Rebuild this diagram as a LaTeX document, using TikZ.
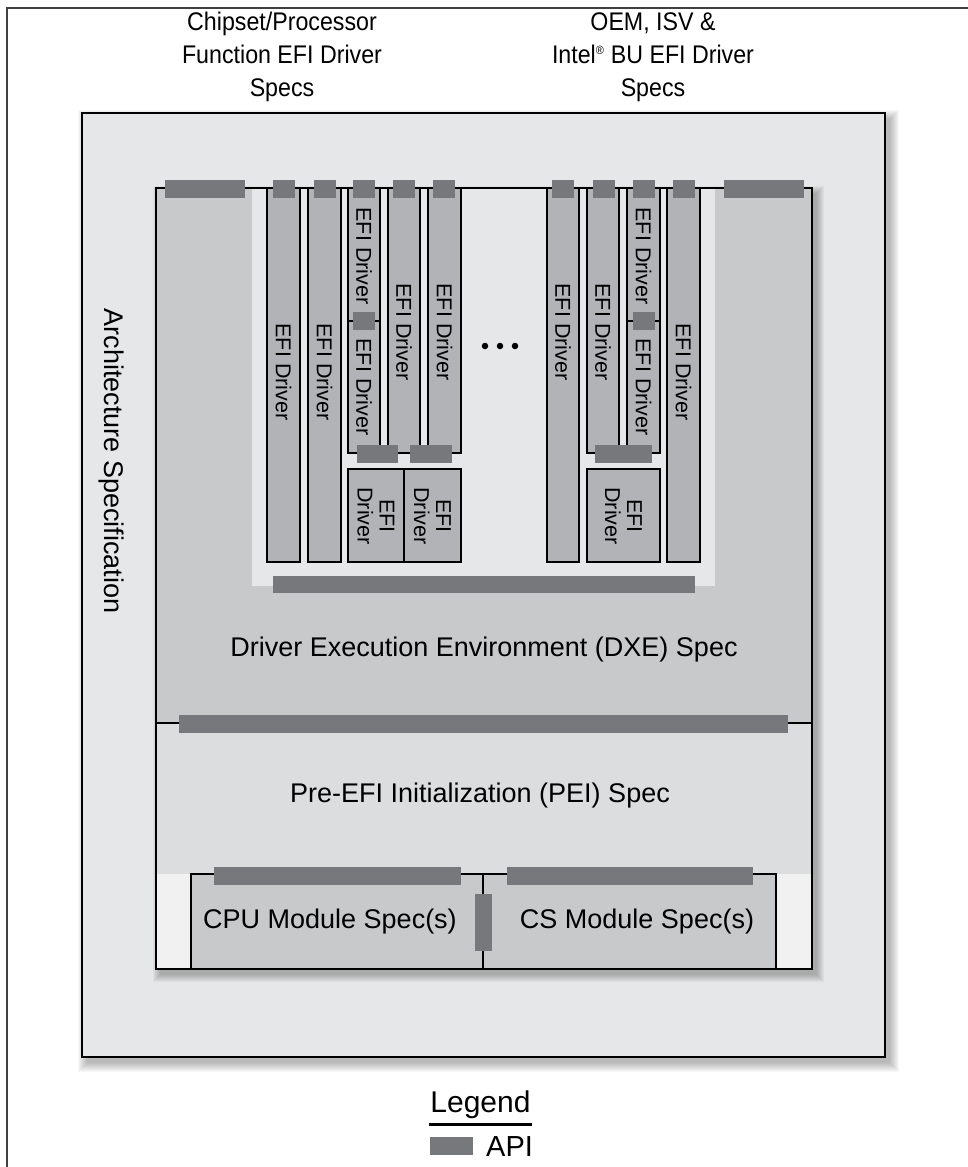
\documentclass[tikz,border=0pt]{standalone}
\usepackage{fontspec}
\setmainfont{Liberation Sans}
\newfontfamily\narrowsans[FakeStretch=0.91]{Liberation Sans}
\usetikzlibrary{fit}
\definecolor{archfill}{HTML}{E6E7E8}
\definecolor{dxefill}{HTML}{C8C9CB}
\definecolor{peifill}{HTML}{DCDDDF}
\definecolor{lowfill}{HTML}{F1F1F2}
\definecolor{drvfill}{HTML}{B1B3B6}
\definecolor{modfill}{HTML}{C8C9CB}
\definecolor{apifill}{HTML}{77787B}
\begin{document}
\begin{tikzpicture}[x=1pt,y=-1pt,
  box/.style={inner sep=0pt, outer sep=0pt},
  drv/.style={box, draw=black, line width=1.2pt, fill=drvfill},
  api/.style={box, fill=apifill, draw=none},
  mod/.style={box, draw=black, line width=1.5pt, fill=modfill},
  drvtxt/.style={font=\fontsize{21.5}{22}\selectfont, rotate=-90, align=center, inner sep=0pt},
  bigtxt/.style={font=\fontsize{27}{32}\selectfont, inner sep=0pt},
  toptxt/.style={font=\narrowsans\fontsize{25.5}{33}\selectfont, align=center, inner sep=0pt}
]
\useasboundingbox (0,0) rectangle (967,1167);
% outer frame
\draw[line width=2pt, black!75] (7,1168) -- (7,8) -- (968,8);

% top labels
\node[toptxt] (lblA) at (282,57) {Chipset/Processor\\Function EFI Driver\\Specs};
\node[toptxt] (lblB) at (653,57) {OEM, ISV \&\\Intel\textsuperscript{\fontsize{12}{12}\selectfont ®} BU EFI Driver\\Specs};

% architecture box with soft shadow
\foreach \k in {0,...,9}
  \fill[black, opacity=0.03] ({87-\k},{119-\k}) rectangle ({890+\k},{1063+\k});
\node[box, fill=archfill, draw=black, line width=2pt, fit={(82,113) (885,1057)}] (arch) {};
\node[bigtxt, rotate=-90] (archlbl) at (111,461) {Architecture Specification};

% DXE / PEI box with soft shadow
\foreach \k in {0,...,7}
  \fill[black, opacity=0.035] ({160-\k},{193-\k}) rectangle ({817+\k},{975+\k});
\node[box, fill=lowfill, fit={(156,188) (812,969)}] (spec) {};
\node[box, fill=peifill, fit={(156,723) (812,874)}] (pei) {};
\node[box, fill=dxefill, fit={(156,188) (812,723)}] (dxe) {};
\node[box, fill=archfill, fit={(252,188) (715,586)}] (slot) {};
\draw[line width=2pt] (spec.north west) rectangle (spec.south east);
\draw[line width=1.5pt] (dxe.south west) -- (dxe.south east);

% modules
\node[mod, fit={(191,874) (483,969)}] (cpu) {};
\node[mod, fit={(483,874) (776,969)}] (cs) {};

% left driver group
\node[drv, fit={(267,188) (300,562)}] (d1) {};
\node[drv, fit={(308,188) (341,562)}] (d2) {};
\node[drv, fit={(348,188) (380,321)}] (d3a) {};
\node[drv, fit={(348,321) (380,453)}] (d3b) {};
\node[drv, fit={(388,188) (420,453)}] (d4) {};
\node[drv, fit={(428,188) (461,453)}] (d5) {};
\node[drv, fit={(348,469) (404,562)}] (e1) {};
\node[drv, fit={(404,469) (461,562)}] (e2) {};
% right driver group
\node[drv, fit={(547,188) (579,562)}] (r1) {};
\node[drv, fit={(587,188) (619,453)}] (r2) {};
\node[drv, fit={(627,188) (660,321)}] (r3a) {};
\node[drv, fit={(627,321) (660,453)}] (r3b) {};
\node[drv, fit={(667,188) (700,562)}] (r4) {};
\node[drv, fit={(587,469) (660,562)}] (e3) {};

% driver labels
\node[drvtxt] (t1) at (283.5,372) {EFI Driver};
\node[drvtxt] (t2) at (324.5,372) {EFI Driver};
\node[drvtxt] (t3a) at (364,256) {EFI Driver};
\node[drvtxt] (t3b) at (364,387) {EFI Driver};
\node[drvtxt] (t4) at (404,332) {EFI Driver};
\node[drvtxt] (t5) at (444.5,332) {EFI Driver};
\node[drvtxt] (te1) at (376,516) {EFI\\Driver};
\node[drvtxt] (te2) at (432.5,516) {EFI\\Driver};
\node[drvtxt] (tr1) at (563,332) {EFI Driver};
\node[drvtxt] (tr2) at (603,332) {EFI Driver};
\node[drvtxt] (tr3a) at (643.5,256) {EFI Driver};
\node[drvtxt] (tr3b) at (643.5,387) {EFI Driver};
\node[drvtxt] (tr4) at (683.5,372) {EFI Driver};
\node[drvtxt] (te3) at (623.5,516) {EFI\\Driver};

% ellipsis dots
\node[circle, fill=black, inner sep=0pt, minimum size=6.5pt] (dot1) at (485,346) {};
\node[circle, fill=black, inner sep=0pt, minimum size=6.5pt] (dot2) at (500,346) {};
\node[circle, fill=black, inner sep=0pt, minimum size=6.5pt] (dot3) at (515,346) {};

% API bars
\node[api, fit={(165,180) (245,198)}] (a1) {};
\node[api, fit={(273,180) (295,198)}] (a2) {};
\node[api, fit={(314,180) (336,198)}] (a3) {};
\node[api, fit={(353,180) (375,198)}] (a4) {};
\node[api, fit={(393,180) (415,198)}] (a5) {};
\node[api, fit={(433,180) (455,198)}] (a6) {};
\node[api, fit={(552,180) (574,198)}] (a7) {};
\node[api, fit={(593,180) (615,198)}] (a8) {};
\node[api, fit={(633,180) (655,198)}] (a9) {};
\node[api, fit={(673,180) (695,198)}] (a10) {};
\node[api, fit={(724,180) (804,198)}] (a11) {};
\node[api, fit={(353,312) (375,330)}] (m1) {};
\node[api, fit={(633,312) (655,330)}] (m2) {};
\node[api, fit={(357,445) (398,463)}] (l1) {};
\node[api, fit={(410,445) (452,463)}] (l2) {};
\node[api, fit={(595,445) (652,463)}] (l3) {};
\node[api, fit={(273,576) (695,593)}] (dxeapi) {};
\node[api, fit={(179,715) (788,733)}] (peiapi) {};
\node[api, fit={(214,867) (461,885)}] (cpuapi) {};
\node[api, fit={(507,867) (753,885)}] (csapi) {};
\node[api, fit={(475,894) (492,951)}] (modapi) {};

% big texts
\node[bigtxt] (dxelbl) at (484,650) {Driver Execution Environment (DXE) Spec};
\node[bigtxt] (peilbl) at (480,796) {Pre-EFI Initialization (PEI) Spec};
\node[bigtxt] (cpulbl) at (330,922) {CPU Module Spec(s)};
\node[bigtxt] (cslbl) at (637,922) {CS Module Spec(s)};

% legend
\node[font=\fontsize{30}{36}\selectfont, anchor=base, inner sep=0pt] (leg) at (480.5,1112) {Legend};
\draw[line width=3pt] (429,1124) -- (532,1124);
\node[api, fit={(430,1137) (473,1155)}] (legapi) {};
\node[font=\fontsize{29}{34}\selectfont, anchor=base west, inner sep=0pt] (apilbl) at (486,1156) {API};
\end{tikzpicture}
\end{document}
